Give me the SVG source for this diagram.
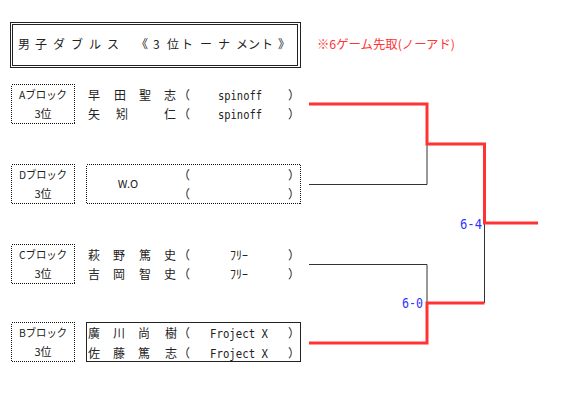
<svg xmlns="http://www.w3.org/2000/svg" width="578" height="409" viewBox="0 0 578 409">
<style>
.jp{font-family:"Noto Sans CJK JP","Noto Sans",sans-serif;font-size:12px;fill:#222}
.lb{font-family:"Noto Sans CJK JP","Noto Sans",sans-serif;font-size:11px;fill:#222;text-anchor:middle}
.mono{font-family:"DejaVu Sans Mono",monospace;font-size:12px;fill:#222}
.dot{fill:none;stroke:#111;stroke-width:1;stroke-dasharray:1 1;shape-rendering:crispEdges}
.solid{fill:none;stroke:#222;stroke-width:1;shape-rendering:crispEdges}
.blk{fill:none;stroke:#333;stroke-width:1}
.red{fill:none;stroke:#ff3333;stroke-width:3;stroke-linejoin:miter}
.score{font-family:"DejaVu Sans Mono",monospace;font-size:14px;fill:#3333ff;text-anchor:end}
</style>
<rect width="578" height="409" fill="#fff"/>
<g id="title">
<rect class="solid" x="10.5" y="22.5" width="290" height="45"/>
<rect class="solid" x="12.5" y="24.5" width="285" height="41"/>
<text class="jp" y="49" x="18 35 53 71 89 107 136 153 167 181 200 218 236 248 261 278">男子ダブルス《3位トーナメント》</text>
</g>
<g id="note">
<text class="jp" x="317" y="49" style="fill:#ff3333" textLength="138" lengthAdjust="spacingAndGlyphs">※6ゲーム先取(ノーアド)</text>
</g>
<g id="blockA">
<rect class="dot" x="11.5" y="84.5" width="63" height="39"/>
<text class="lb" x="43" y="99" textLength="48" lengthAdjust="spacingAndGlyphs">Aブロック</text>
<text class="lb" x="43" y="118">3位</text>
<text class="jp" y="99.5" x="88 114 139 164 178">早田聖志（</text>
<text class="mono" x="218" y="99.5" textLength="44" lengthAdjust="spacingAndGlyphs">spinoff</text>
<text class="jp" x="288" y="99.5">）</text>
<text class="jp" y="119" x="88 116 164 178">矢矧仁（</text>
<text class="mono" x="218" y="119" textLength="44" lengthAdjust="spacingAndGlyphs">spinoff</text>
<text class="jp" x="288" y="119">）</text>
</g>
<g id="blockD">
<rect class="dot" x="11.5" y="164.5" width="63" height="39"/>
<text class="lb" x="43" y="179" textLength="48" lengthAdjust="spacingAndGlyphs">Dブロック</text>
<text class="lb" x="43" y="198">3位</text>
<rect class="dot" x="86.5" y="164.5" width="214" height="39"/>
<text class="lb" x="128" y="188">W.O</text>
<text class="jp" x="178" y="179.5">（</text>
<text class="jp" x="288" y="179.5">）</text>
<text class="jp" x="178" y="199">（</text>
<text class="jp" x="288" y="199">）</text>
</g>
<g id="blockC">
<rect class="dot" x="11.5" y="244.5" width="63" height="39"/>
<text class="lb" x="43" y="259" textLength="48" lengthAdjust="spacingAndGlyphs">Cブロック</text>
<text class="lb" x="43" y="278">3位</text>
<text class="jp" y="259.5" x="88 113 139 164 178">萩野篤史（</text>
<text class="jp" x="230" y="259.5">ﾌﾘｰ</text>
<text class="jp" x="288" y="259.5">）</text>
<text class="jp" y="279" x="88 113 139 164 178">吉岡智史（</text>
<text class="jp" x="230" y="279">ﾌﾘｰ</text>
<text class="jp" x="288" y="279">）</text>
</g>
<g id="blockB">
<rect class="dot" x="11.5" y="322.5" width="63" height="39"/>
<text class="lb" x="43" y="337" textLength="48" lengthAdjust="spacingAndGlyphs">Bブロック</text>
<text class="lb" x="43" y="356">3位</text>
<rect class="solid" x="86.5" y="322.5" width="214" height="39"/>
<text class="jp" y="338" x="88 113 138 165 178">廣川尚樹（</text>
<text class="mono" x="210" y="338" textLength="58" lengthAdjust="spacingAndGlyphs">Froject X</text>
<text class="jp" x="288" y="338">）</text>
<text class="jp" y="358" x="88 113 138 165 178">佐藤篤志（</text>
<text class="mono" x="210" y="358" textLength="58" lengthAdjust="spacingAndGlyphs">Froject X</text>
<text class="jp" x="288" y="358">）</text>
</g>
<g id="connectors">
<path class="blk" d="M309,184.5 H427 V144"/>
<path class="blk" d="M309,264.5 H427 V303"/>
<path class="blk" d="M484.5,223 V303"/>
<path class="red" d="M309,104 H427 V144 H484.5 V223 H538"/>
<path class="red" d="M309,343 H427 V303 H484.5"/>
<text class="score" x="482" y="229" textLength="22" lengthAdjust="spacingAndGlyphs">6-4</text>
<text class="score" x="423" y="308" textLength="21" lengthAdjust="spacingAndGlyphs">6-0</text>
</g>
</svg>
